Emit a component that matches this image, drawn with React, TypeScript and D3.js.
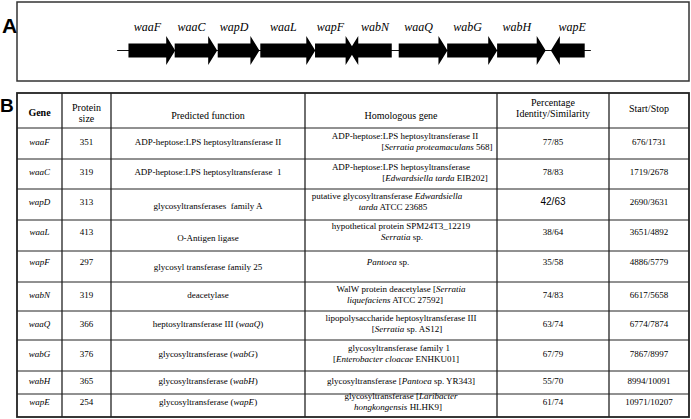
import React from 'react';
import * as d3 from 'd3';

const width = 691;
const height = 419;

// gene cluster (table B values)
const genes = ['waaF', 'waaC', 'wapD', 'waaL', 'wapF', 'wabN', 'waaQ', 'wabG', 'wabH', 'wapE'];
const proteinSize = [351, 319, 313, 413, 297, 319, 366, 376, 365, 254];
const startPos = [676, 1719, 2690, 3651, 4886, 6617, 6774, 7867, 8994, 10971];
const stopPos = [1731, 2678, 3631, 4892, 5779, 5658, 7874, 8997, 10091, 10207];
const identity = [77, 78, 42, 38, 35, 74, 63, 67, 55, 61];
const similarity = [85, 83, 63, 64, 58, 83, 74, 79, 70, 74];

// *text* = italic
const predictedFunction = [
  'ADP-heptose:LPS heptosyltransferase II',
  'ADP-heptose:LPS heptosyltransferase  1',
  'glycosyltransferases  family A',
  'O-Antigen ligase',
  'glycosyl transferase family 25',
  'deacetylase',
  'heptosyltransferase III (*waaQ*)',
  'glycosyltransferase (*wabG*)',
  'glycosyltransferase (*wabH*)',
  'glycosyltransferase (*wapE*)',
];

const homologousGene = [
  ['ADP-heptose:LPS heptosyltransferase II', '[*Serratia proteamaculans* 568]'],
  ['ADP-heptose:LPS heptosyltransferase', '[*Edwardsiella tarda* EIB202]'],
  ['putative glycosyltransferase *Edwardsiella*', '*tarda* ATCC 23685'],
  ['hypothetical protein SPM24T3_12219', '*Serratia* sp.'],
  ['*Pantoea* sp.'],
  ['WalW protein deacetylase [*Serratia*', '*liquefaciens* ATCC 27592]'],
  ['lipopolysaccharide heptosyltransferase III', '[*Serratia* sp. AS12]'],
  ['glycosyltransferase family 1', '[*Enterobacter cloacae* ENHKU01]'],
  ['glycosyltransferase [*Pantoea* sp. YR343]'],
  ['glycosyltransferase [*Laribacter*', '*hongkongensis* HLHK9]'],
];

const locusRange = [420, 11110];

// layout
const serif = '"Liberation Serif", "Times New Roman", serif';
const sans = '"Liberation Sans", Arial, sans-serif';
const tableX = 17;
const tableY = 93;
const colWidths = [45, 49, 194, 192, 112, 80];
const rowHeights = [35, 31, 30, 31, 31, 31, 29, 29, 31, 23, 23];
const firstLineShift = [4, 0, -14, 0, -13, 0, 0, -2, 0, 0];
const secondLineShift = [36, 34, -8, 1, 0, -6, 6, -5, 0, -3];
const predictedDy = [0, 0, 4, 6, 5, 0, 0, 0, 0, 0];
const rowDy = [0, 0, -1, -2, -3, 0, 0, 0, 0, -2];

const colEdges = [tableX, ...Array.from(d3.cumsum(colWidths), d => tableX + d)];
const rowEdges = [tableY, ...Array.from(d3.cumsum(rowHeights), d => tableY + d)];
const colMid = (i: number) => (colEdges[i] + colEdges[i + 1]) / 2;
const rowMid = (i: number) => (rowEdges[i] + rowEdges[i + 1]) / 2;

const parseRich = (s: string) =>
  s.split('*').map((t, i) => ({ t, italic: i % 2 === 1 })).filter(d => d.t.length > 0);

const Rich = ({ x, y, s, size = 9, font = serif, weight = 'normal' }: any) => (
  <text x={x} y={y} dy="0.33em" fontSize={size} fontFamily={font} fontWeight={weight}
    textAnchor="middle" fill="#000" style={{ whiteSpace: 'pre' }}>
    {parseRich(s).map((seg, i) => (
      <tspan key={i} fontStyle={seg.italic ? 'italic' : 'normal'}>{seg.t}</tspan>
    ))}
  </text>
);

const GeneMap = () => {
  const x = d3.scaleLinear().domain([0, 11000]).range([98.5, 586]);
  const cy = 50.5;
  const body = 7;
  const head = 14.5;
  const headLen = 9;

  const arrowPath = (a: number, b: number) => {
    const x0 = x(a);
    const x1 = x(b);
    const dir = x1 > x0 ? 1 : -1;
    const hb = x1 - dir * headLen;
    const p = d3.path();
    p.moveTo(x0, cy - body);
    p.lineTo(hb, cy - body);
    p.lineTo(hb, cy - head);
    p.lineTo(x1, cy);
    p.lineTo(hb, cy + head);
    p.lineTo(hb, cy + body);
    p.lineTo(x0, cy + body);
    p.closePath();
    return p.toString();
  };

  return (
    <g>
      <rect x={17} y={2} width={672} height={79} fill="none" stroke="#333" strokeWidth={1.5} />
      <text x={2} y={33} fontFamily={sans} fontWeight="bold" fontSize={21} fill="#000">A</text>
      <line x1={x(locusRange[0])} x2={x(locusRange[1])} y1={cy} y2={cy} stroke="#111" strokeWidth={1} />
      {genes.map((g, i) => {
        const a = startPos[i];
        const b = stopPos[i];
        const dir = b > a ? 1 : -1;
        const labelX = (x(a) + x(b) - dir * headLen) / 2;
        return (
          <g key={g}>
            <path d={arrowPath(a, b)} fill="#000" />
            <text x={labelX} y={31} textAnchor="middle" fontFamily={serif} fontStyle="italic"
              fontSize={12} fill="#000">{g}</text>
          </g>
        );
      })}
    </g>
  );
};

const GeneTable = () => {
  const tableW = colEdges[colEdges.length - 1] - tableX;
  const tableH = rowEdges[rowEdges.length - 1] - tableY;
  return (
    <g>
      <text x={0} y={112} fontFamily={sans} fontWeight="bold" fontSize={19} fill="#000">B</text>
      {rowEdges.slice(1, -1).map((y, i) => (
        <line key={'r' + i} x1={tableX} x2={tableX + tableW} y1={y} y2={y} stroke="#222" strokeWidth={1} />
      ))}
      {colEdges.slice(1, -1).map((cx, i) => (
        <line key={'c' + i} x1={cx} x2={cx} y1={tableY} y2={tableY + tableH} stroke="#222" strokeWidth={1.3} />
      ))}
      <rect x={tableX} y={tableY} width={tableW} height={tableH} fill="none" stroke="#222" strokeWidth={1.8} />

      {/* header */}
      <Rich x={colMid(0)} y={113} s="Gene" size={10} weight="bold" />
      <Rich x={colMid(1)} y={108} s="Protein" size={10} />
      <Rich x={colMid(1)} y={119} s="size" size={10} />
      <Rich x={colMid(2)} y={116} s="Predicted function" size={10} />
      <Rich x={colMid(3)} y={116} s="Homologous gene" size={10} />
      <Rich x={colMid(4)} y={103} s="Percentage" size={10} />
      <Rich x={colMid(4)} y={114} s="Identity/Similarity" size={10} />
      <Rich x={colMid(5)} y={109} s="Start/Stop" size={10} />

      {genes.map((g, i) => {
        const cy = rowMid(i + 1) - 1.5 + rowDy[i];
        const lines = homologousGene[i];
        return (
          <g key={g}>
            <Rich x={colMid(0)} y={cy} s={`*${g}*`} />
            <Rich x={colMid(1)} y={cy} s={String(proteinSize[i])} />
            <Rich x={colMid(2)} y={cy + predictedDy[i]} s={predictedFunction[i]} />
            {lines.map((ln, j) => (
              <Rich key={j}
                x={colMid(3) + (j === 1 ? secondLineShift[i] : firstLineShift[i])}
                y={lines.length === 1 ? cy : cy + (j === 0 ? -5.5 : 5.5)}
                s={ln} />
            ))}
            <Rich x={colMid(4)} y={cy} s={`${identity[i]}/${similarity[i]}`}
              font={i === 2 ? sans : serif} size={i === 2 ? 10 : 9} />
            <Rich x={colMid(5)} y={cy} s={`${startPos[i]}/${stopPos[i]}`} />
          </g>
        );
      })}
    </g>
  );
};

const App = () => (
  <svg width={width} height={height} style={{ position: 'absolute', left: 0, top: 0, background: '#fff' }}>
    <GeneMap />
    <GeneTable />
  </svg>
);

export default App;
